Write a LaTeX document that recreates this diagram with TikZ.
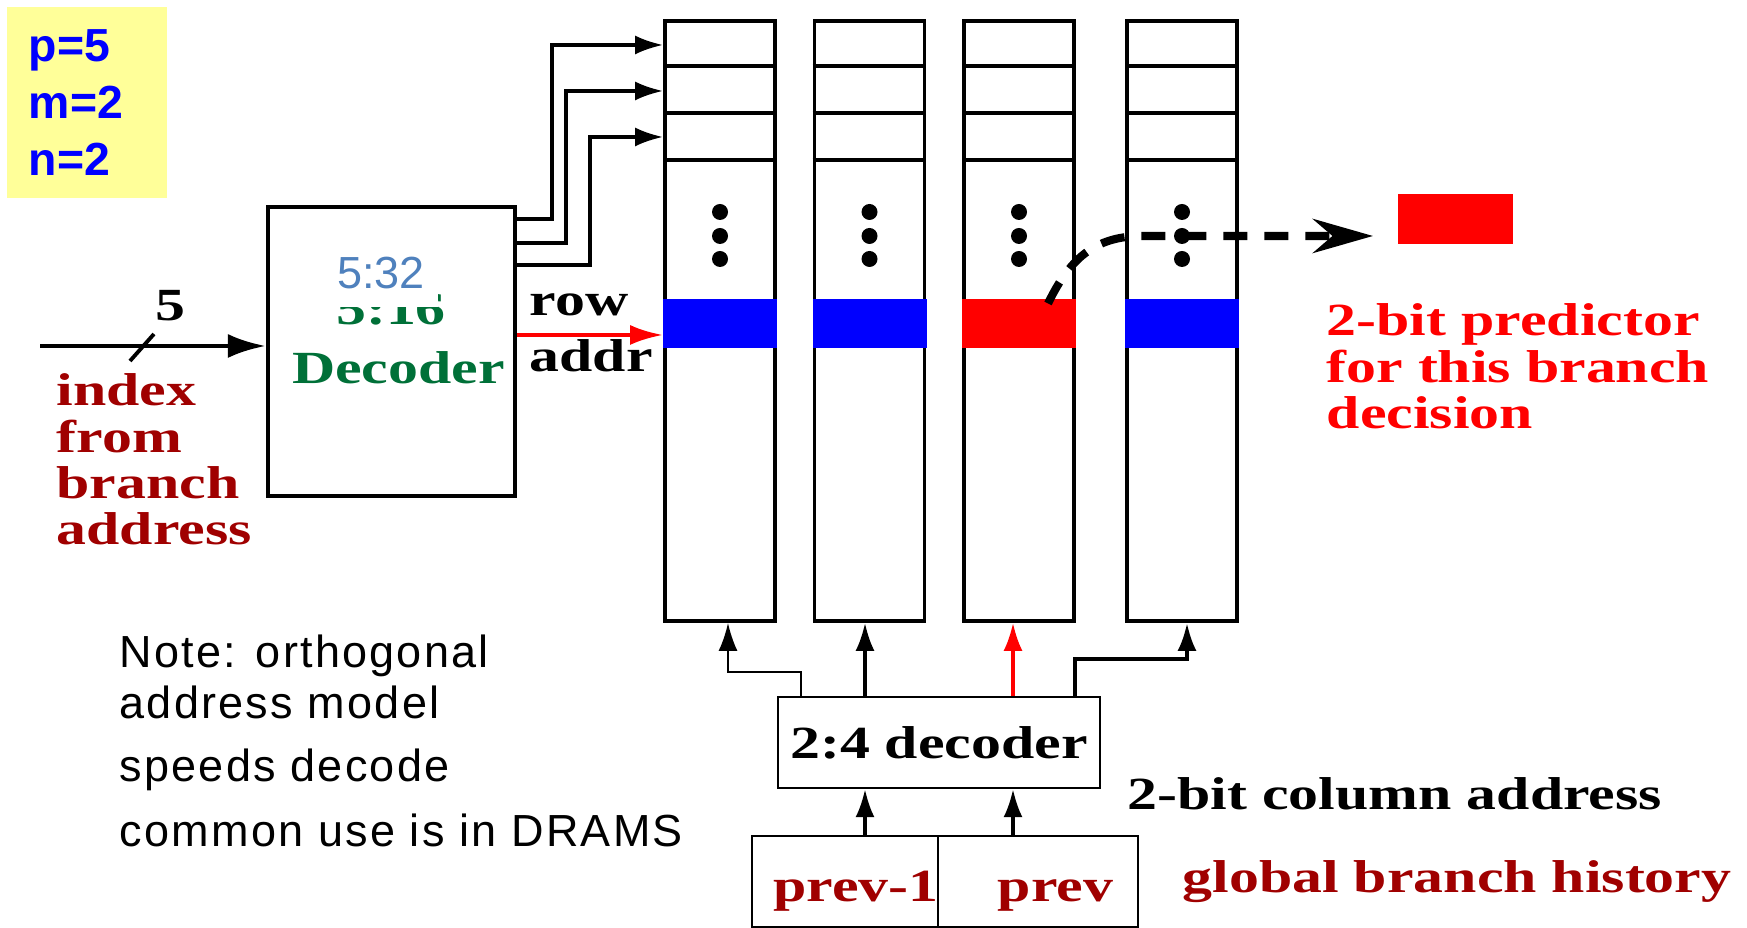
\documentclass[tikz,border=0pt]{standalone}
\usepackage{fontspec}
\setmainfont{Liberation Serif}
\setsansfont{Liberation Sans}
\newfontfamily\widefont[FakeStretch=1.3]{Liberation Serif}
\newfontfamily\notefont[LetterSpace=5]{Liberation Sans}
\usetikzlibrary{calc,positioning,arrows.meta}
\definecolor{paramyellow}{RGB}{255,255,153}
\definecolor{idxred}{RGB}{160,0,0}
\definecolor{decgreen}{RGB}{0,112,56}
\definecolor{newblue}{RGB}{79,129,189}
\newcommand{\lblfont}{\widefont\bfseries\fontsize{13.1}{13.2}\selectfont}

\begin{document}
\begin{tikzpicture}[
  lbl/.style={font=\lblfont, inner sep=0pt},
  wire/.style={line width=0.9pt},
  thinwire/.style={line width=0.6pt},
  colbox/.style={draw, line width=1.1pt, minimum width=1.10cm, minimum height=6.00cm, inner sep=0pt},
  band/.style={minimum width=1.14cm, minimum height=0.49cm, inner sep=0pt},
  tip/.style={-{Latex[length=0.28cm,width=0.19cm]}},
  smallbox/.style={draw, line width=0.7pt, inner sep=0pt}
]
  \useasboundingbox (0,0) rectangle (17.47,9.28);

  % parameters
  \node[fill=paramyellow, minimum width=1.60cm, minimum height=1.91cm, text width=1.16cm,
        inner xsep=0.22cm, inner ysep=0pt, align=left, text=blue,
        font=\sffamily\bfseries\fontsize{13.2}{16.2}\selectfont] (params) at (0.87,8.255) {p=5\\m=2\\n=2};

  % row decoder
  \node[draw, line width=1.2pt, minimum width=2.47cm, minimum height=2.89cm] (dec) at (3.915,5.765) {};
  \node[lbl, text=decgreen, anchor=base] (oldsize) at (3.91,6.03) {5:16};
  \node[fill=white, font=\sffamily\fontsize{12.8}{14}\selectfont, text=newblue,
        inner xsep=0.13cm, inner ysep=0.02cm, text depth=0.16cm, anchor=base] (newsize) at (3.81,6.39) {5:32};
  \node[lbl, text=decgreen, anchor=base] (decname) at (3.985,5.44) {Decoder};

  % index input
  \coordinate (idx) at (0.40,5.82);
  \draw[line width=1.4pt, -{Latex[length=0.38cm,width=0.24cm]}] (idx) -- (idx -| dec.west);
  \draw[line width=1.1pt] (1.30,5.67) -- (1.54,5.94);
  \node[lbl, anchor=base] (idxwidth) at (1.70,6.07) {5};
  \node[lbl, text=idxred, align=left, anchor=north west] (idxtxt) at (0.56,5.55) {index\\from\\branch\\address};

  % predictor table columns
  \foreach \c/\x in {1/7.20, 2/8.695, 3/10.19, 4/11.82}
    \node[colbox] (col\c) at (\x,6.07) {};
  \foreach \c in {1,...,4}
    \foreach \y in {8.62,8.15,7.68}
      \draw[line width=1pt] (col\c.west |- 0,\y) -- (col\c.east |- 0,\y);
  \foreach \c/\clr in {1/blue, 2/blue, 3/red, 4/blue}
    \node[band, fill=\clr] (band\c) at (col\c |- 0,6.045) {};
  \foreach \c in {1,...,4}
    \foreach \y in {7.16,6.92,6.69}
      \fill (col\c |- 0,\y) circle (0.08);

  % decoder outputs to the first rows
  \foreach \yo/\xb/\yr in {7.09/5.52/8.83, 6.85/5.66/8.37, 6.63/5.90/7.91}
    \draw[wire, tip] (dec.east |- 0,\yo) -| (\xb,\yr) -- (col1.west |- 0,\yr);

  % row address
  \draw[red, line width=1.2pt, -{Latex[length=0.33cm,width=0.2cm]}] (dec.east |- 0,5.93) -- (col1.west |- 0,5.93);
  \node[lbl, align=left, anchor=north west] (rowaddr) at (5.29,6.35) {row\\[2.8pt]addr};

  % selected predictor
  \node[fill=red, minimum width=1.15cm, minimum height=0.50cm, inner sep=0pt] (pred) at (14.555,7.09) {};
  \coordinate (predtip) at (13.73,6.92);
  \draw[line width=2.3pt, dash pattern=on 0.24cm off 0.17cm, -{Stealth[length=0.6cm,width=0.34cm]}]
    ($(band3.center)+(0.29,0.2)$) .. controls (10.70,6.70) and (10.95,6.91) .. (11.40,6.92) -- (predtip);
  \node[lbl, text=red, align=left, anchor=north west] (predtxt) at (13.26,6.25) {2-bit predictor\\for this branch\\decision};

  % column decoder
  \node[smallbox, minimum width=3.22cm, minimum height=0.91cm, font=\lblfont] (dec24) at (9.39,1.855) {2:4 decoder};
  \draw[thinwire, tip] (dec24.north -| 8.01,0) |- (7.28,2.56) -- (7.28,0 |- col1.south);
  \draw[wire, tip] (dec24.north -| 8.65,0) -- (8.65,0 |- col2.south);
  \draw[wire, red, tip] (dec24.north -| 10.13,0) -- (10.13,0 |- col3.south);
  \draw[wire, line width=1.1pt, tip] (dec24.north -| 10.75,0) |- (11.87,2.69) -- (11.87,0 |- col4.south);
  \node[lbl, anchor=base west] (coladdr) at (11.27,1.18) {2-bit column address};

  % history bits
  \node[smallbox, minimum width=1.86cm, minimum height=0.91cm] (prev1) at (8.45,0.465) {};
  \node[smallbox, minimum width=2.00cm, minimum height=0.91cm] (prev0) at (10.38,0.465) {};
  \node[lbl, text=idxred, anchor=base] (prev1txt) at (8.56,0.26) {prev-1};
  \node[lbl, text=idxred, anchor=base] (prev0txt) at (10.555,0.26) {prev};
  \draw[wire, tip] (prev1.north -| 8.65,0) -- (8.65,0 |- dec24.south);
  \draw[wire, tip] (prev0.north -| 10.13,0) -- (10.13,0 |- dec24.south);
  \node[lbl, text=idxred, anchor=base west] (histtxt) at (11.82,0.35) {global branch history};

  % note
  \node[font=\notefont\fontsize{12.8}{14.5}\selectfont, align=left, anchor=north west, inner sep=0pt] (note)
    at (1.19,2.94) {Note: orthogonal\\address model\\[3.5pt]speeds decode\\[4pt]common use is in DRAMS};
\end{tikzpicture}
\end{document}
